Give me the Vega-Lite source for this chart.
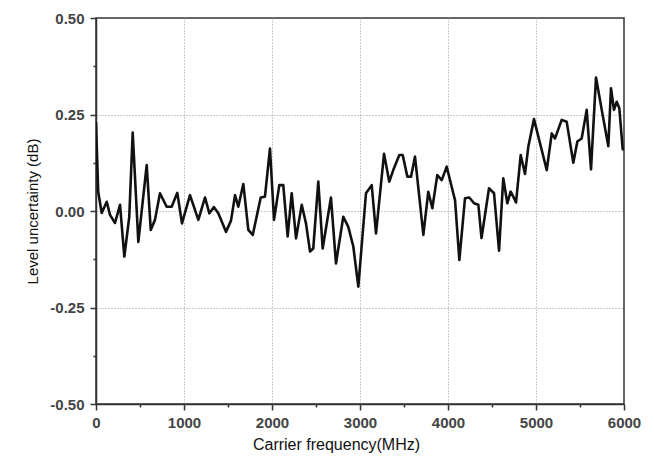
{
  "$schema": "https://vega.github.io/schema/vega-lite/v6.json",
  "width": 528,
  "height": 386,
  "autosize": {"type": "none"},
  "padding": {"left": 96, "top": 18, "right": 30, "bottom": 63},
  "background": "white",
  "config": {
    "view": {"stroke": "#333", "strokeWidth": 1.5},
    "font": "Liberation Sans"
  },
  "data": {
    "values": [
      {"f": 0, "u": 0.23}, {"f": 25, "u": 0.05}, {"f": 65, "u": -0.005}, {"f": 122, "u": 0.024},
      {"f": 159, "u": -0.01}, {"f": 216, "u": -0.031}, {"f": 273, "u": 0.016}, {"f": 322, "u": -0.118},
      {"f": 378, "u": -0.015}, {"f": 417, "u": 0.203}, {"f": 481, "u": -0.08}, {"f": 576, "u": 0.119},
      {"f": 622, "u": -0.049}, {"f": 670, "u": -0.023}, {"f": 727, "u": 0.046}, {"f": 803, "u": 0.011},
      {"f": 860, "u": 0.011}, {"f": 924, "u": 0.047}, {"f": 977, "u": -0.032}, {"f": 1068, "u": 0.041},
      {"f": 1163, "u": -0.023}, {"f": 1239, "u": 0.035}, {"f": 1288, "u": -0.006}, {"f": 1341, "u": 0.01},
      {"f": 1390, "u": -0.006}, {"f": 1477, "u": -0.054}, {"f": 1534, "u": -0.025}, {"f": 1580, "u": 0.041},
      {"f": 1617, "u": 0.011}, {"f": 1674, "u": 0.07}, {"f": 1731, "u": -0.049}, {"f": 1781, "u": -0.062},
      {"f": 1872, "u": 0.035}, {"f": 1920, "u": 0.037}, {"f": 1977, "u": 0.162}, {"f": 2023, "u": -0.023},
      {"f": 2083, "u": 0.067}, {"f": 2128, "u": 0.067}, {"f": 2178, "u": -0.066}, {"f": 2224, "u": 0.046},
      {"f": 2273, "u": -0.071}, {"f": 2338, "u": 0.016}, {"f": 2386, "u": -0.032}, {"f": 2432, "u": -0.105},
      {"f": 2469, "u": -0.097}, {"f": 2526, "u": 0.076}, {"f": 2576, "u": -0.097}, {"f": 2670, "u": 0.035},
      {"f": 2727, "u": -0.136}, {"f": 2810, "u": -0.015}, {"f": 2867, "u": -0.041}, {"f": 2924, "u": -0.092},
      {"f": 2981, "u": -0.196}, {"f": 3068, "u": 0.046}, {"f": 3133, "u": 0.067}, {"f": 3182, "u": -0.058},
      {"f": 3273, "u": 0.148}, {"f": 3333, "u": 0.076}, {"f": 3378, "u": 0.106}, {"f": 3447, "u": 0.145},
      {"f": 3485, "u": 0.145}, {"f": 3538, "u": 0.089}, {"f": 3580, "u": 0.089}, {"f": 3625, "u": 0.141},
      {"f": 3720, "u": -0.062}, {"f": 3776, "u": 0.05}, {"f": 3822, "u": 0.007}, {"f": 3878, "u": 0.093},
      {"f": 3929, "u": 0.08}, {"f": 3985, "u": 0.115}, {"f": 4060, "u": 0.046}, {"f": 4080, "u": 0.028},
      {"f": 4129, "u": -0.127}, {"f": 4193, "u": 0.033}, {"f": 4242, "u": 0.035}, {"f": 4296, "u": 0.02},
      {"f": 4345, "u": 0.016}, {"f": 4381, "u": -0.07}, {"f": 4466, "u": 0.059}, {"f": 4523, "u": 0.046},
      {"f": 4580, "u": -0.103}, {"f": 4628, "u": 0.085}, {"f": 4674, "u": 0.02}, {"f": 4712, "u": 0.05},
      {"f": 4742, "u": 0.037}, {"f": 4773, "u": 0.022}, {"f": 4826, "u": 0.145}, {"f": 4875, "u": 0.096},
      {"f": 4913, "u": 0.167}, {"f": 4977, "u": 0.238}, {"f": 5065, "u": 0.158}, {"f": 5122, "u": 0.106},
      {"f": 5179, "u": 0.201}, {"f": 5216, "u": 0.188}, {"f": 5292, "u": 0.236}, {"f": 5349, "u": 0.231},
      {"f": 5424, "u": 0.125}, {"f": 5470, "u": 0.18}, {"f": 5519, "u": 0.188}, {"f": 5576, "u": 0.262},
      {"f": 5625, "u": 0.108}, {"f": 5682, "u": 0.346}, {"f": 5747, "u": 0.262}, {"f": 5822, "u": 0.168},
      {"f": 5852, "u": 0.318}, {"f": 5886, "u": 0.262}, {"f": 5917, "u": 0.283}, {"f": 5947, "u": 0.266},
      {"f": 5985, "u": 0.16}, {"f": 6000, "u": 0.16}
    ]
  },
  "mark": {"type": "line", "color": "#111", "strokeWidth": 2.6, "strokeJoin": "round", "clip": true},
  "encoding": {
    "x": {
      "field": "f", "type": "quantitative",
      "scale": {"domain": [0, 6000], "nice": false, "zero": false},
      "axis": {
        "title": "Carrier frequency(MHz)",
        "values": [0, 500, 1000, 1500, 2000, 2500, 3000, 3500, 4000, 4500, 5000, 5500, 6000],
        "format": "d",
        "labelExpr": "datum.value % 1000 === 0 ? datum.label : ''",
        "domainColor": "#333", "domainWidth": 1.5,
        "tickColor": "#333", "tickWidth": 1.5,
        "tickSize": {"condition": {"test": "datum.value % 1000 !== 0", "value": 3}, "value": 6},
        "grid": true, "gridColor": "#999", "gridDash": [1, 2], "gridWidth": 1,
        "gridOpacity": {"condition": {"test": "datum.value % 1000 !== 0 || datum.value === 0 || datum.value === 6000", "value": 0}, "value": 1},
        "labelFont": "Liberation Sans", "labelFontSize": 15, "labelFontWeight": "bold", "labelColor": "#444",
        "labelPadding": 5, "labelFlush": false,
        "titleFont": "Liberation Sans", "titleFontSize": 16, "titleFontWeight": "normal", "titleColor": "#111",
        "titlePadding": 6, "titleX": 240, "titleAnchor": null
      }
    },
    "y": {
      "field": "u", "type": "quantitative",
      "scale": {"domain": [-0.5, 0.5], "nice": false, "zero": false},
      "axis": {
        "title": "Level uncertainty (dB)",
        "values": [-0.5, -0.375, -0.25, -0.125, 0, 0.125, 0.25, 0.375, 0.5],
        "labelExpr": "abs(datum.value*4 - round(datum.value*4)) > 0.01 ? '' : (datum.value < 0 ? '-' : '') + format(abs(datum.value), '.2f')",
        "domainColor": "#333", "domainWidth": 1.5,
        "tickColor": "#333", "tickWidth": 1.5,
        "tickSize": {"condition": {"test": "abs(datum.value*4 - round(datum.value*4)) > 0.01", "value": 3}, "value": 6},
        "grid": true, "gridColor": "#999", "gridDash": [1, 2], "gridWidth": 1,
        "gridOpacity": {"condition": {"test": "abs(datum.value*4 - round(datum.value*4)) > 0.01 || abs(datum.value) > 0.4", "value": 0}, "value": 1},
        "labelFont": "Liberation Sans", "labelFontSize": 15, "labelFontWeight": "bold", "labelColor": "#444",
        "labelPadding": 6, "labelFlush": false,
        "titleFont": "Liberation Sans", "titleFontSize": 15, "titleFontWeight": "normal", "titleColor": "#111",
        "titlePadding": 9
      }
    }
  }
}
